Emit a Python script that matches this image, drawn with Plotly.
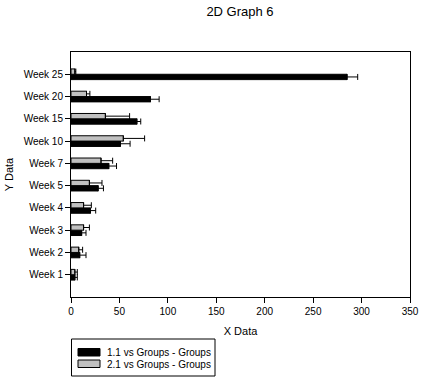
import plotly.graph_objects as go

categories = ["Week 1", "Week 2", "Week 3", "Week 4", "Week 5",
              "Week 7", "Week 10", "Week 15", "Week 20", "Week 25"]
series1_name = "1.1 vs Groups - Groups"
series1_values = [4, 9, 11, 20, 28, 39, 51, 68, 82, 285]
series1_errors = [2.5, 6.5, 4.5, 5.5, 5.5, 8, 10, 4, 9, 11]
series2_name = "2.1 vs Groups - Groups"
series2_values = [4, 8, 13, 13, 19, 31, 54, 35.5, 16, 4]
series2_errors = [2.5, 4, 6, 8, 13, 12, 22, 25, 3.5, 1]
x_ticks = [0, 50, 100, 150, 200, 250, 300, 350]

font = "Liberation Sans, Arial, sans-serif"
color1 = "black"
color2 = "#c0c0c0"

fig = go.Figure()
fig.add_trace(go.Bar(
    y=categories, x=series1_values, orientation="h", name=series1_name,
    marker=dict(color=color1, line=dict(color="black", width=1)),
    error_x=dict(type="data", array=series1_errors, arrayminus=[0] * len(series1_errors),
                 symmetric=False, color="black", thickness=1, width=3),
))
fig.add_trace(go.Bar(
    y=categories, x=series2_values, orientation="h", name=series2_name,
    marker=dict(color=color2, line=dict(color="black", width=1)),
    error_x=dict(type="data", array=series2_errors, arrayminus=[0] * len(series2_errors),
                 symmetric=False, color="black", thickness=1, width=3),
))

W, H = 442, 379
L, R, T, B = 71, 32, 52, 82
PW, PH = W - L - R, H - T - B


def px(fx):
    return (fx - L) / PW


def py(fy):
    return (T + PH - fy) / PH


# legend box with wide swatches, as in the reference
shapes = [
    dict(type="rect", xref="paper", yref="paper",
         x0=px(71.5), x1=px(215), y0=py(339), y1=py(376),
         line=dict(color="black", width=1), fillcolor="white", layer="above"),
]
annotations = []
for i, (name, col) in enumerate([(series1_name, color1), (series2_name, color2)]):
    top = 348.5 + i * 11.5
    shapes.append(dict(type="rect", xref="paper", yref="paper",
                       x0=px(78), x1=px(100), y0=py(top), y1=py(top + 7.5),
                       line=dict(color="black", width=1), fillcolor=col, layer="above"))
    annotations.append(dict(text=name, xref="paper", yref="paper",
                            x=px(105), y=py(top + 4), xanchor="left", yanchor="middle",
                            showarrow=False, font=dict(size=10, color="black", family=font)))

fig.update_layout(
    width=W, height=H,
    margin=dict(l=L, r=R, t=T, b=B, autoexpand=False),
    paper_bgcolor="white", plot_bgcolor="white",
    font=dict(family=font, size=10, color="black"),
    title=dict(text="2D Graph 6", x=240 / W, xanchor="center", xref="container",
               y=1 - 11 / H, yanchor="middle", yref="container",
               font=dict(size=13, color="black", family=font)),
    barmode="group", bargap=0.52, bargroupgap=0,
    showlegend=False,
    shapes=shapes,
    annotations=annotations,
)
fig.update_xaxes(
    range=[0, 350], tickvals=x_ticks, ticks="outside", ticklen=5, tickcolor="black",
    showline=True, linecolor="black", linewidth=1, mirror=True,
    showgrid=False, zeroline=False, automargin=False,
    title=dict(text="X Data", font=dict(size=11, family=font, color="black"), standoff=11),
)
fig.update_yaxes(
    type="category", categoryorder="array", categoryarray=categories,
    range=[-1, 10], ticks="outside", ticklen=5, tickcolor="black",
    showline=True, linecolor="black", linewidth=1, mirror=True,
    showgrid=False, zeroline=False, automargin=False,
    title=dict(text="Y Data", font=dict(size=11, family=font, color="black"), standoff=7),
)

fig.write_html("out.html",
               config={"displayModeBar": False},
               post_script="document.body.style.margin='0';document.body.style.overflow='hidden';")
